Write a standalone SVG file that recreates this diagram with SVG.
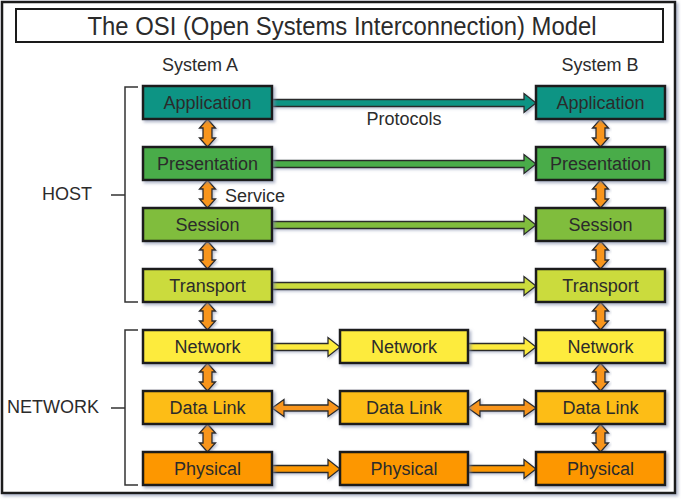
<svg xmlns="http://www.w3.org/2000/svg" xmlns:xlink="http://www.w3.org/1999/xlink" width="681" height="500" viewBox="0 0 681 500">
<style>
.box{stroke:#1a1a1a;stroke-width:2.5;filter:url(#sh)}
.lbl{font-family:"Liberation Sans",Arial,sans-serif;font-size:18px;fill:#2b2b2b;text-anchor:middle}
.txt{font-family:"Liberation Sans",Arial,sans-serif;font-size:18px;fill:#2b2b2b}
.arr{stroke:#2a2a2a;stroke-width:1.3;stroke-linejoin:miter;filter:url(#sh2)}
.brk{fill:none;stroke:#333;stroke-width:1.5}
.app{fill:#119484}.pre{fill:#4aac4a}.ses{fill:#80bd3c}.tra{fill:#cbdb3c}
.net{fill:#fdeb3e}.dl{fill:#fdbd18}.phy{fill:#fd9700}.or{fill:#f8951e}
</style>
<defs>
<filter id="sh" x="-10%" y="-20%" width="130%" height="160%"><feDropShadow dx="2" dy="2" stdDeviation="1.5" flood-color="#7d86a6" flood-opacity="0.6"/></filter>
<filter id="sh2" x="-10%" y="-30%" width="130%" height="180%"><feDropShadow dx="1.5" dy="1.5" stdDeviation="1" flood-color="#7d86a6" flood-opacity="0.5"/></filter>
<polygon id="vd" points="0,0 8,9 4.5,9 4.5,19 8,19 0,28 -8,19 -4.5,19 -4.5,9 -8,9"/>
<polygon id="hl" points="0,-3.5 252,-3.5 252,-9.5 264,0 252,9.5 252,3.5 0,3.5"/>
<polygon id="hs" points="0,-3.5 56,-3.5 56,-9.5 68,0 56,9.5 56,3.5 0,3.5"/>
<polygon id="hd" points="0,0 12,-8.5 12,-3 56,-3 56,-8.5 68,0 56,8.5 56,3 12,3 12,8.5"/>
</defs>
<rect x="0" y="0" width="681" height="500" fill="#fff"/>
<rect x="2" y="2" width="673" height="491" fill="#fff" stroke="#1a1a1a" stroke-width="2.5" filter="url(#sh)"/>
<g id="title">
<rect x="16" y="9" width="647" height="33" fill="#fff" stroke="#1a1a1a" stroke-width="2"/>
<text x="342" y="34.5" class="lbl" style="font-size:25px" textLength="509" lengthAdjust="spacingAndGlyphs">The OSI (Open Systems Interconnection) Model</text>
</g>
<text x="200" y="71" class="lbl">System A</text>
<text x="600" y="71" class="lbl">System B</text>
<text x="404" y="125" class="lbl">Protocols</text>
<text x="225" y="202" class="txt">Service</text>
<text x="67" y="200" class="lbl">HOST</text>
<text x="53" y="413" class="lbl">NETWORK</text>
<g id="brackets">
<path class="brk" d="M138,87H125V302H138M111,195H125"/>
<path class="brk" d="M138,330H125V485H138M111,408H125"/>
</g>
<g id="connectors">
<use href="#hl" class="arr app" x="272" y="103"/>
<use href="#hl" class="arr pre" x="272" y="164"/>
<use href="#hl" class="arr ses" x="272" y="225"/>
<use href="#hl" class="arr tra" x="272" y="286"/>
<use href="#hs" class="arr net" x="272" y="347"/>
<use href="#hs" class="arr net" x="468" y="347"/>
<use href="#hd" class="arr or" x="272" y="408"/>
<use href="#hd" class="arr or" x="468" y="408"/>
<use href="#hs" class="arr phy" x="272" y="469"/>
<use href="#hs" class="arr phy" x="468" y="469"/>
<use href="#vd" class="arr or" x="207.5" y="119"/>
<use href="#vd" class="arr or" x="207.5" y="180"/>
<use href="#vd" class="arr or" x="207.5" y="241"/>
<use href="#vd" class="arr or" x="207.5" y="302"/>
<use href="#vd" class="arr or" x="207.5" y="363"/>
<use href="#vd" class="arr or" x="207.5" y="424"/>
<use href="#vd" class="arr or" x="600.5" y="119"/>
<use href="#vd" class="arr or" x="600.5" y="180"/>
<use href="#vd" class="arr or" x="600.5" y="241"/>
<use href="#vd" class="arr or" x="600.5" y="302"/>
<use href="#vd" class="arr or" x="600.5" y="363"/>
<use href="#vd" class="arr or" x="600.5" y="424"/>
</g>
<g id="a-application"><rect class="box app" x="143" y="86" width="129" height="33"/><text class="lbl" x="207.5" y="109">Application</text></g>
<g id="a-presentation"><rect class="box pre" x="143" y="147" width="129" height="33"/><text class="lbl" x="207.5" y="170">Presentation</text></g>
<g id="a-session"><rect class="box ses" x="143" y="208" width="129" height="33"/><text class="lbl" x="207.5" y="231">Session</text></g>
<g id="a-transport"><rect class="box tra" x="143" y="269" width="129" height="33"/><text class="lbl" x="207.5" y="292">Transport</text></g>
<g id="a-network"><rect class="box net" x="143" y="330" width="129" height="33"/><text class="lbl" x="207.5" y="353">Network</text></g>
<g id="a-datalink"><rect class="box dl" x="143" y="391" width="129" height="33"/><text class="lbl" x="207.5" y="414">Data Link</text></g>
<g id="a-physical"><rect class="box phy" x="143" y="452" width="129" height="33"/><text class="lbl" x="207.5" y="475">Physical</text></g>
<g id="m-network"><rect class="box net" x="340" y="330" width="128" height="33"/><text class="lbl" x="404" y="353">Network</text></g>
<g id="m-datalink"><rect class="box dl" x="340" y="391" width="128" height="33"/><text class="lbl" x="404" y="414">Data Link</text></g>
<g id="m-physical"><rect class="box phy" x="340" y="452" width="128" height="33"/><text class="lbl" x="404" y="475">Physical</text></g>
<g id="b-application"><rect class="box app" x="536" y="86" width="129" height="33"/><text class="lbl" x="600.5" y="109">Application</text></g>
<g id="b-presentation"><rect class="box pre" x="536" y="147" width="129" height="33"/><text class="lbl" x="600.5" y="170">Presentation</text></g>
<g id="b-session"><rect class="box ses" x="536" y="208" width="129" height="33"/><text class="lbl" x="600.5" y="231">Session</text></g>
<g id="b-transport"><rect class="box tra" x="536" y="269" width="129" height="33"/><text class="lbl" x="600.5" y="292">Transport</text></g>
<g id="b-network"><rect class="box net" x="536" y="330" width="129" height="33"/><text class="lbl" x="600.5" y="353">Network</text></g>
<g id="b-datalink"><rect class="box dl" x="536" y="391" width="129" height="33"/><text class="lbl" x="600.5" y="414">Data Link</text></g>
<g id="b-physical"><rect class="box phy" x="536" y="452" width="129" height="33"/><text class="lbl" x="600.5" y="475">Physical</text></g>
</svg>
